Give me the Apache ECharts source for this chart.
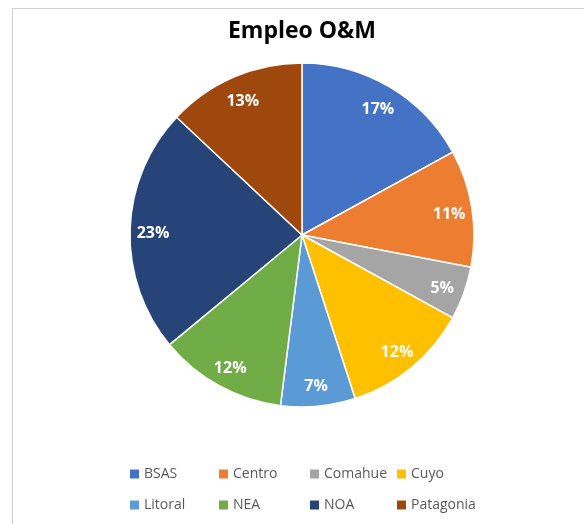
<!DOCTYPE html>
<html>
<head>
<meta charset="utf-8">
<script src="https://cdn.jsdelivr.net/npm/echarts@6/dist/echarts.min.js"></script>
<style>
  html, body { margin: 0; padding: 0; background: #fff; }
  #chart { width: 584px; height: 524px; }
</style>
</head>
<body>
<div id="chart"></div>
<script>
const regions = ['BSAS', 'Centro', 'Comahue', 'Cuyo', 'Litoral', 'NEA', 'NOA', 'Patagonia'];
const shares = [17, 11, 5, 12, 7, 12, 23, 13];
const colors = ['#4472c4', '#ed7d31', '#a5a5a5', '#ffc000', '#5b9bd5', '#70ad47', '#264478', '#9e480e'];

const myChart = echarts.init(document.getElementById('chart'));
const pieData = regions.map((name, i) => ({ name: name, value: shares[i] }));

// legend laid out as 4 columns x 2 rows
const legendCols = [130, 219, 310, 397];
const legends = legendCols.map((left, c) => ({
    orient: 'vertical',
    left: left,
    top: 467,
    padding: 0,
    itemWidth: 9,
    itemHeight: 9,
    itemGap: 17,
    icon: 'rect',
    itemStyle: { borderWidth: 0 },
    selectedMode: false,
    textStyle: { fontFamily: 'Open Sans', fontSize: 14, color: '#595959' },
    data: [regions[c], regions[c + 4]]
}));

myChart.setOption({
    backgroundColor: '#fff',
    animation: false,
    color: colors,
    title: {
        text: 'Empleo O&M',
        left: 302,
        textAlign: 'center',
        top: 20,
        padding: 0,
        textStyle: { fontFamily: 'Open Sans', fontSize: 23, fontWeight: 'bold', color: '#000' }
    },
    legend: legends,
    graphic: [{
        type: 'rect',
        shape: { x: 12.5, y: 8.5, width: 600, height: 600 },
        style: { fill: 'none', stroke: '#d0d0d0', lineWidth: 1 },
        silent: true
    }],
    series: [{
        name: 'Empleo',
        type: 'pie',
        radius: [0, 172],
        center: [302, 235],
        startAngle: 90,
        clockwise: true,
        silent: true,
        itemStyle: { borderColor: '#fff', borderWidth: 1.5 },
        label: { show: false },
        labelLine: { show: false },
        data: pieData
    }, {
        // carries only the labels, placed near the rim
        name: 'labels',
        type: 'pie',
        radius: [120, 172],
        center: [302, 235],
        startAngle: 90,
        clockwise: true,
        silent: true,
        itemStyle: { color: 'rgba(0,0,0,0)' },
        label: {
            show: true,
            position: 'inside',
            formatter: '{c}%',
            offset: [0, 3],
            fontFamily: 'Open Sans',
            fontSize: 16,
            fontWeight: 'bold',
            color: '#fff'
        },
        labelLine: { show: false },
        data: pieData
    }]
});
</script>
</body>
</html>
